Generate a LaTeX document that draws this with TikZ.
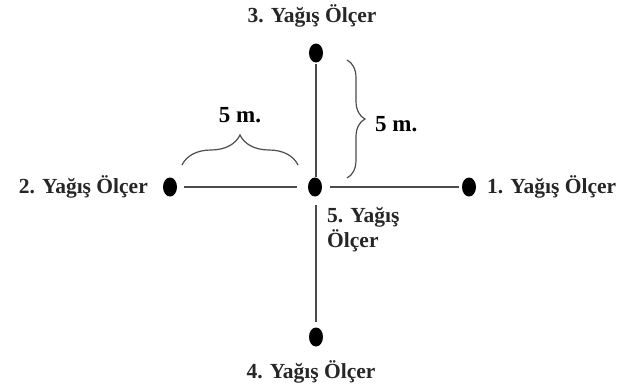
\documentclass[tikz,border=0pt]{standalone}
\usepackage{fontspec}
\setmainfont{Liberation Serif}
\usetikzlibrary{decorations.pathreplacing,shapes.geometric}
\begin{document}
\begin{tikzpicture}[x=1pt,y=-1pt,
  gauge/.style={fill=black,ellipse,inner sep=0pt,minimum width=14pt,minimum height=19pt},
  lbl/.style={font=\fontsize{21.5}{25}\selectfont\bfseries,inner sep=0pt,text=black!85},
  dist/.style={font=\fontsize{23}{26}\selectfont\bfseries,inner sep=0pt},
  arm/.style={line width=1.3pt,black!70},
  bracestyle/.style={line width=1.2pt,black!70,decorate}]
\useasboundingbox (0,0) rectangle (618,388);
% gauges
\node[gauge] (c) at (315,187) {};
\node[gauge] (t) at (316,53) {};
\node[gauge] (b) at (316,337) {};
\node[gauge] (l) at (170,187) {};
\node[gauge] (r) at (469,187) {};
% arms between gauges
\draw[arm] (316,64) -- (316,177);
\draw[arm] (316,205) -- (316,322);
\draw[arm] (184,187) -- (297,187);
\draw[arm] (330,187) -- (459,187);
% labels
\node[lbl,anchor=base] (lt) at (312,22) {3. Yağış Ölçer};
\node[lbl,anchor=base] (lb) at (311,378) {4. Yağış Ölçer};
\node[lbl,anchor=base east] (ll) at (148,193) {2. Yağış Ölçer};
\node[lbl,anchor=base west] (lr) at (487,193) {1. Yağış Ölçer};
\node[lbl,anchor=base west] (lc1) at (327,222) {5. Yağış};
\node[lbl,anchor=base west] (lc2) at (327,247) {Ölçer};
% distance braces
\coordinate (h1) at (182,165);
\coordinate (h2) at (298,165);
\draw[bracestyle,decoration={brace,amplitude=30pt}] (h1) -- (h2);
\node[dist,anchor=base] (dh) at (240,122) {5 m.};
\coordinate (v1) at (347,60);
\coordinate (v2) at (347,178);
\draw[bracestyle,decoration={brace,amplitude=18pt}] (v1) -- (v2);
\node[dist,anchor=base west] (dv) at (375,131) {5 m.};
\end{tikzpicture}
\end{document}
